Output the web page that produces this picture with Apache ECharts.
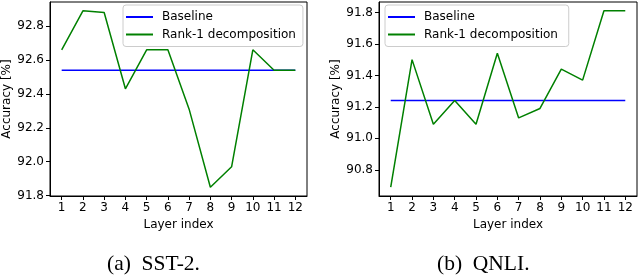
<!DOCTYPE html>
<html>
<head>
<meta charset="utf-8">
<script src="https://cdn.jsdelivr.net/npm/echarts@6/dist/echarts.min.js"></script>
<style>html,body{margin:0;padding:0;background:#fff}#c{width:640px;height:277px}</style>
</head>
<body>
<div id="c"></div>
<script>
var layers = [1,2,3,4,5,6,7,8,9,10,11,12];
var xTicks = [1,2,3,4,5,6,7,8,9,10,11,12];
var sstBaseline = [92.54,92.54,92.54,92.54,92.54,92.54,92.54,92.54,92.54,92.54,92.54,92.54];
var sstRank1 = [92.66,92.89,92.88,92.43,92.66,92.66,92.31,91.85,91.97,92.66,92.54,92.54];
var sstYTicks = [91.8,92.0,92.2,92.4,92.6,92.8];
var qnliBaseline = [91.24,91.24,91.24,91.24,91.24,91.24,91.24,91.24,91.24,91.24,91.24,91.24];
var qnliRank1 = [90.69,91.50,91.09,91.24,91.09,91.54,91.13,91.19,91.44,91.37,91.81,91.81];
var qnliYTicks = [90.8,91.0,91.2,91.4,91.6,91.8];
var legendNames = ['Baseline','Rank-1 decomposition'];
var captions = ['(a)  SST-2.','(b)  QNLI.'];

function pairs(ys){ return layers.map(function(x,i){ return [x, ys[i]]; }); }

var font = 'DejaVu Sans';
function xAxis(gi){
  return {
    type:'value', gridIndex:gi, min:0.45, max:12.55,
    name:'Layer index', nameLocation:'middle', nameGap:21,
    nameTextStyle:{fontFamily:font,fontSize:12,color:'#000'},
    axisLine:{show:true,lineStyle:{color:'#000',width:1}},
    axisTick:{show:true,length:4,inside:false,customValues:xTicks,lineStyle:{color:'#000'}},
    axisLabel:{show:true,customValues:xTicks,margin:6,fontFamily:font,fontSize:12,color:'#000'},
    splitLine:{show:false}
  };
}
function yAxis(gi,min,max,ticks){
  return {
    type:'value', gridIndex:gi, min:min, max:max,
    name:'Accuracy [%]', nameLocation:'middle', nameGap:37, nameRotate:90,
    nameTextStyle:{fontFamily:font,fontSize:12,color:'#000'},
    axisLine:{show:true,lineStyle:{color:'#000',width:1}},
    axisTick:{show:true,length:4,inside:false,customValues:ticks,lineStyle:{color:'#000'}},
    axisLabel:{show:true,customValues:ticks,margin:6,fontFamily:font,fontSize:12,color:'#000',
      formatter:function(v){return v.toFixed(1);}},
    splitLine:{show:false}
  };
}
function legend(left, gi){
  return {
    orient:'vertical', left:left, top:5,
    padding:[6,7,6,3], itemGap:5.5, itemWidth:27, itemHeight:2,
    backgroundColor:'rgba(255,255,255,0.8)', borderColor:'#cccccc', borderWidth:1, borderRadius:3,
    textStyle:{fontFamily:font,fontSize:12,color:'#000',padding:[0,0,0,4]},
    data:[
      {name:legendNames[0]+(gi?' ':''), icon:'rect'},
      {name:legendNames[1]+(gi?' ':''), icon:'rect'}
    ]
  };
}
function line(name, gi, ys, color){
  return {
    type:'line', name:name, xAxisIndex:gi, yAxisIndex:gi, data:pairs(ys),
    showSymbol:false, symbol:'none', color:color,
    lineStyle:{color:color,width:1.5}, itemStyle:{color:color}, silent:true
  };
}

var capStyle = {fontFamily:'Liberation Serif',fontSize:21.5,fontWeight:'normal',color:'#000'};
var chart = echarts.init(document.getElementById('c'), null, {renderer:'canvas'});
chart.setOption({
  animation:false,
  backgroundColor:'#fff',
  title:[
    {text:captions[0], left:107, top:253, textStyle:capStyle, padding:0},
    {text:captions[1], left:437, top:253, textStyle:capStyle, padding:0}
  ],
  grid:[
    {left:49, top:2, width:258, height:194, show:true, borderColor:'#000', borderWidth:1, backgroundColor:'transparent'},
    {left:379, top:2, width:258, height:194, show:true, borderColor:'#000', borderWidth:1, backgroundColor:'transparent'}
  ],
  xAxis:[xAxis(0), xAxis(1)],
  yAxis:[yAxis(0,91.798,92.942,sstYTicks), yAxis(1,90.634,91.866,qnliYTicks)],
  legend:[legend(123,0), legend(385,1)],
  series:[
    line(legendNames[0], 0, sstBaseline, '#0000ff'),
    line(legendNames[1], 0, sstRank1, '#008000'),
    line(legendNames[0]+' ', 1, qnliBaseline, '#0000ff'),
    line(legendNames[1]+' ', 1, qnliRank1, '#008000')
  ]
});
</script>
</body>
</html>
